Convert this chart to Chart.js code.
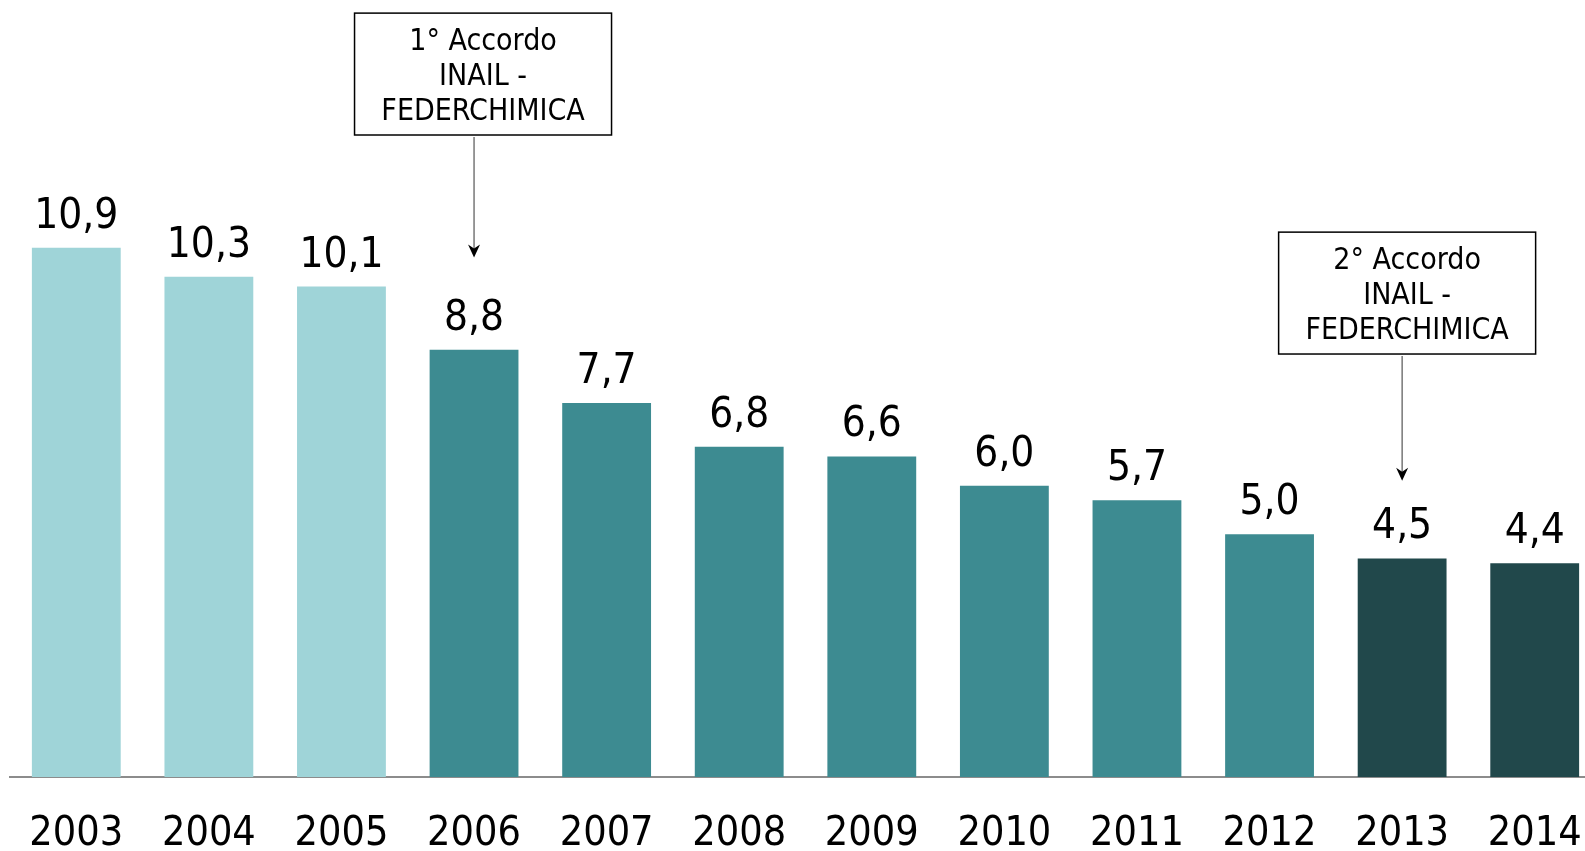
<!DOCTYPE html>
<html>
<head>
<meta charset="utf-8">
<script src="https://cdn.jsdelivr.net/npm/chart.js@4/dist/chart.umd.min.js"></script>
<style>
  html, body { margin: 0; padding: 0; background: #fff; overflow: hidden; }
  #wrap { width: 1605px; height: 851px; }
</style>
</head>
<body>
<div id="wrap"><canvas id="myChart"></canvas></div>
<script>
// data
const years = ["2003","2004","2005","2006","2007","2008","2009","2010","2011","2012","2013","2014"];
const values = [10.9, 10.3, 10.1, 8.8, 7.7, 6.8, 6.6, 6.0, 5.7, 5.0, 4.5, 4.4];
const barColors = ["#9fd4d8","#9fd4d8","#9fd4d8",
  "#3d8b91","#3d8b91","#3d8b91","#3d8b91","#3d8b91","#3d8b91","#3d8b91",
  "#21484b","#21484b"];

// annotation boxes: category index, box top/bottom and arrow tip in y units
const notes = [
  {idx: 3, shift: 9, lines: ["1° Accordo", "INAIL -", "FEDERCHIMICA"], top: 15.73, bottom: 13.22, tip: 10.7},
  {idx: 10, shift: 5, lines: ["2° Accordo", "INAIL -", "FEDERCHIMICA"], top: 11.22, bottom: 8.71, tip: 6.1}
];

const FONT = "'DejaVu Sans Condensed', 'DejaVu Sans', sans-serif";

// value labels above bars
const valueLabels = {
  id: "valueLabels",
  afterDatasetsDraw(chart) {
    const ctx = chart.ctx;
    const meta = chart.getDatasetMeta(0);
    ctx.save();
    ctx.font = "42px " + FONT;
    ctx.fillStyle = "#000";
    ctx.textAlign = "center";
    ctx.textBaseline = "alphabetic";
    meta.data.forEach((bar, i) => {
      ctx.fillText(values[i].toFixed(1).replace(".", ","), bar.x, bar.y - 20);
    });
    ctx.restore();
  }
};

// annotation boxes with arrows
const notesPlugin = {
  id: "notes",
  afterDraw(chart) {
    const ctx = chart.ctx;
    const xs = chart.scales.x, ys = chart.scales.y;
    ctx.save();
    for (const n of notes) {
      const ax = xs.getPixelForValue(n.idx);
      const cx = ax + n.shift;
      const top = ys.getPixelForValue(n.top);
      const bot = ys.getPixelForValue(n.bottom);
      const w = 257;
      ctx.fillStyle = "#fff";
      ctx.fillRect(cx - w / 2, top, w, bot - top);
      ctx.strokeStyle = "#000";
      ctx.lineWidth = 1.5;
      ctx.strokeRect(cx - w / 2, top, w, bot - top);
      ctx.font = "30px " + FONT;
      ctx.fillStyle = "#000";
      ctx.textAlign = "center";
      ctx.textBaseline = "middle";
      const h = bot - top;
      n.lines.forEach((t, k) => {
        ctx.fillText(t, cx, top + h * (0.235 + 0.29 * k));
      });
      // arrow
      const tip = ys.getPixelForValue(n.tip);
      ctx.strokeStyle = "#555";
      ctx.lineWidth = 1.2;
      ctx.beginPath();
      ctx.moveTo(ax, bot + 2);
      ctx.lineTo(ax, tip - 4);
      ctx.stroke();
      ctx.fillStyle = "#000";
      ctx.beginPath();
      ctx.moveTo(ax, tip);
      ctx.lineTo(ax - 6, tip - 13);
      ctx.lineTo(ax, tip - 9);
      ctx.lineTo(ax + 6, tip - 13);
      ctx.closePath();
      ctx.fill();
    }
    ctx.restore();
  }
};

const config = {
  type: "bar",
  data: {
    labels: years,
    datasets: [{
      data: values,
      backgroundColor: barColors,
      categoryPercentage: 1,
      barPercentage: 0.67
    }]
  },
  options: {
    responsive: true,
    maintainAspectRatio: false,
    animation: false,
    layout: { padding: { left: 10, right: 4, top: 0, bottom: 0 } },
    plugins: { legend: { display: false }, tooltip: { enabled: false } },
    scales: {
      x: {
        grid: { display: false, drawTicks: false },
        border: { display: true, color: "#8c8c8c", width: 2 },
        ticks: { color: "#000", font: { family: FONT, size: 41, lineHeight: 1.8 }, padding: 20, maxRotation: 0 },
        afterFit: s => { s.height = 74; }
      },
      y: {
        display: false,
        min: 0,
        max: 16
      }
    }
  },
  plugins: [valueLabels, notesPlugin]
};

new Chart(document.getElementById("myChart"), config);
</script>
</body>
</html>
